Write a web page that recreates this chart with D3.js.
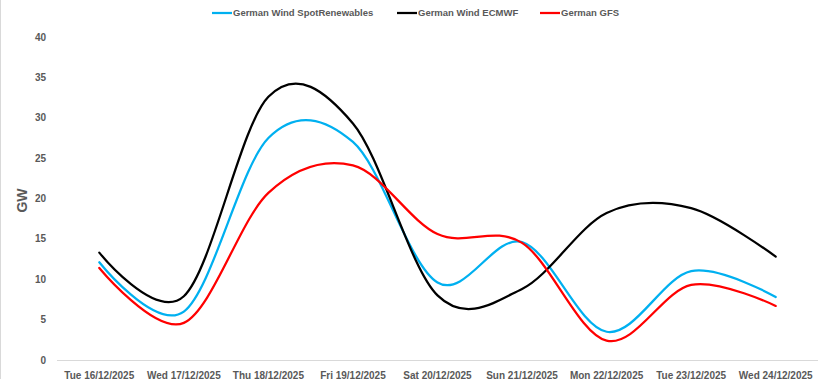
<!DOCTYPE html>
<html>
<head>
<meta charset="utf-8">
<script src="https://cdn.jsdelivr.net/npm/d3@7"></script>
<style>
  body { margin: 0; background: #fff; }
  text { font-family: "Liberation Sans", Arial, sans-serif; font-weight: bold; fill: #595959; }
</style>
</head>
<body>
<div id="chart"></div>
<script>
// categories and series (GW)
const days = ["Tue 16/12/2025", "Wed 17/12/2025", "Thu 18/12/2025", "Fri 19/12/2025",
  "Sat 20/12/2025", "Sun 21/12/2025", "Mon 22/12/2025", "Tue 23/12/2025", "Wed 24/12/2025"];
const spotRenewables = [12.1, 6.0, 27.5, 27.0, 9.6, 14.6, 3.5, 11.0, 7.8];
const ecmwf = [13.3, 7.9, 32.6, 29.3, 8.0, 8.8, 18.2, 18.8, 12.8];
const gfs = [11.4, 4.6, 20.7, 24.1, 15.6, 14.5, 2.4, 9.3, 6.7];
const yTicks = [0, 5, 10, 15, 20, 25, 30, 35, 40];

const series = [
  {name: "German Wind SpotRenewables", values: spotRenewables, color: "#00B0F0"},
  {name: "German Wind ECMWF", values: ecmwf, color: "#000000"},
  {name: "German GFS", values: gfs, color: "#FF0000"}
];

const width = 827;
const height = 379;
const margin = {top: 37, right: 9, bottom: 19, left: 57};

const svg = d3.select("#chart").append("svg")
  .attr("width", width)
  .attr("height", height);

// chart border on the left edge
svg.append("line")
  .attr("x1", 0.5).attr("x2", 0.5)
  .attr("y1", 0).attr("y2", height)
  .attr("stroke", "#d9d9d9");

const x = d3.scaleBand(days, [margin.left, width - margin.right]);
const y = d3.scaleLinear([0, 40], [height - margin.bottom, margin.top]);

// y tick labels
svg.append("g")
  .selectAll("text")
  .data(yTicks)
  .join("text")
  .attr("x", 46)
  .attr("y", d => y(d))
  .attr("dy", "0.35em")
  .attr("text-anchor", "end")
  .attr("font-size", 10)
  .text(d => d);

// x axis line
svg.append("line")
  .attr("x1", margin.left).attr("x2", width - margin.right)
  .attr("y1", y(0) + 0.5).attr("y2", y(0) + 0.5)
  .attr("stroke", "#d9d9d9");

svg.append("g")
  .selectAll("text")
  .data(days)
  .join("text")
  .attr("x", d => x(d) + x.bandwidth() / 2)
  .attr("y", 375)
  .attr("dy", "0.35em")
  .attr("text-anchor", "middle")
  .attr("font-size", 10)
  .text(d => d);

// y axis title
svg.append("text")
  .attr("transform", `translate(27,${(y(0) + y(40)) / 2 + 2}) rotate(-90)`)
  .attr("text-anchor", "middle")
  .attr("font-size", 14)
  .text("GW");

const line = d3.line()
  .x((d, i) => x(days[i]) + x.bandwidth() / 2)
  .y(d => y(d))
  .curve(d3.curveCardinal.tension(0));

svg.append("g")
  .selectAll("path")
  .data(series)
  .join("path")
  .attr("fill", "none")
  .attr("stroke", d => d.color)
  .attr("stroke-width", 2.25)
  .attr("stroke-linecap", "round")
  .attr("d", d => line(d.values));

// legend
const legendX = [212, 397, 540];
const legend = svg.append("g")
  .selectAll("g")
  .data(series)
  .join("g")
  .attr("transform", (d, i) => `translate(${legendX[i]},13)`);

legend.append("line")
  .attr("x1", 0).attr("x2", 20)
  .attr("stroke", d => d.color)
  .attr("stroke-width", 2.25);

legend.append("text")
  .attr("x", 21)
  .attr("dy", "0.35em")
  .attr("font-size", 9.5)
  .text(d => d.name);
</script>
</body>
</html>
